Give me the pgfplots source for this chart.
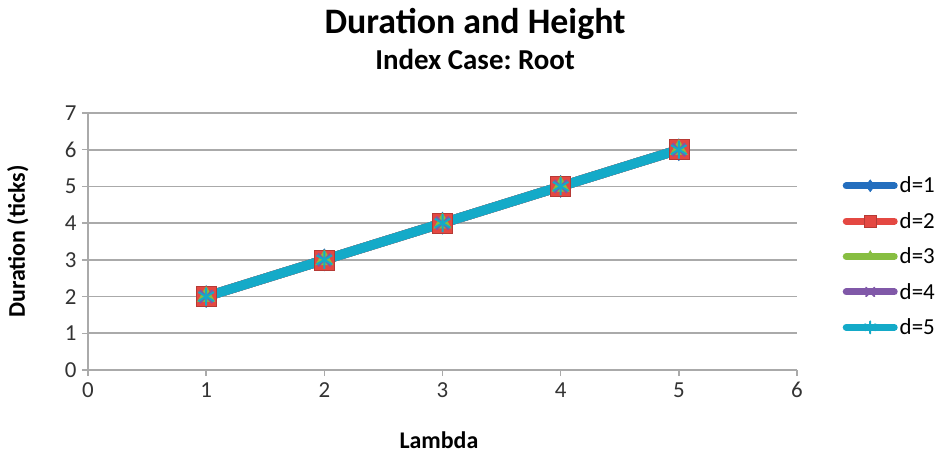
\documentclass[border=0pt]{standalone}
\usepackage{pgfplots}
\pgfplotsset{compat=1.18}
\usepackage{fontspec}
\setmainfont{Carlito}
\frenchspacing
\usetikzlibrary{plotmarks}
\definecolor{sBlue}{RGB}{35,110,190}
\definecolor{sRed}{RGB}{228,72,66}
\definecolor{sGreen}{RGB}{135,190,65}
\definecolor{sPurple}{RGB}{128,88,168}
\definecolor{sCyan}{RGB}{20,170,200}
\definecolor{gridgray}{RGB}{170,170,170}
\pgfplotstableread{
x y
1 2
2 3
3 4
4 5
5 6
}\dataA
\begin{document}
\begin{tikzpicture}
\path[use as bounding box] (0,0) rectangle (941bp,455bp);
\begin{axis}[
  at={(88bp,85bp)}, anchor=south west,
  scale only axis, width=709bp, height=257bp,
  xmin=0, xmax=6, ymin=0, ymax=7,
  xtick={0,...,6}, ytick={0,...,7},
  axis x line=bottom, axis y line=left,
  axis line style={gridgray, line width=1.5bp, -},
  tick style={gridgray, line width=1.5bp},
  tick align=outside, major tick length=6bp,
  ymajorgrids, grid style={gridgray, line width=1.8bp},
  ticklabel style={font=\fontsize{23}{25}\selectfont, text=black!80},
  /pgf/number format/assume math mode=true,
  xticklabel style={yshift=-3bp},
  yticklabel style={xshift=-2bp},
  xlabel={\textbf{Lambda}},
  ylabel={\textbf{Duration (ticks)}},
  label style={font=\fontsize{24}{26}\selectfont},
  xlabel style={at={(0.495,-0.272)}, anchor=center},
  ylabel style={at={(-0.099,0.5)}, anchor=center},
  title={\fontsize{36}{38}\selectfont\textbf{Duration and Height}\\[8bp]\fontsize{29}{31}\selectfont\textbf{Index Case: Root}},
  title style={align=center, at={(0.546,1)}, anchor=south, yshift=34bp},
  legend style={draw=none, fill=none, at={(1.06,0.767)}, anchor=north west,
    font=\fontsize{23}{25}\selectfont, row sep=14bp,
    /tikz/every even column/.append style={column sep=2bp}},
  legend cell align=left,
  legend image code/.code={
    \draw[#1, line width=7bp, line cap=round, mark size=6bp, mark repeat=2, mark phase=2]
      plot coordinates {(0bp,0bp) (24bp,0bp) (48bp,0bp)};
  },
  clip=false,
]
\addplot[sBlue, line width=9.5bp, mark=diamond*, mark size=11bp, mark options={solid, line width=0.5bp}] table[x=x,y=y]{\dataA};
\addlegendentry{d=1}
\addplot[sRed, line width=9.5bp, mark=square*, mark size=10bp, mark options={solid, line width=0.5bp, draw=sRed!80!black}] table[x=x,y=y]{\dataA};
\addlegendentry{d=2}
\addplot[sGreen, line width=9.5bp, mark=triangle*, mark size=10bp, mark options={solid, line width=0.5bp}] table[x=x,y=y]{\dataA};
\addlegendentry{d=3}
\addplot[sPurple, line width=9.5bp, mark=x, mark size=9bp, mark options={solid, line width=2bp}] table[x=x,y=y]{\dataA};
\addlegendentry{d=4}
\addplot[sCyan, line width=9.5bp, mark=asterisk, mark size=9bp, mark options={solid, line width=2bp}] table[x=x,y=y]{\dataA};
\addlegendentry{d=5}
\end{axis}
\end{tikzpicture}
\end{document}
